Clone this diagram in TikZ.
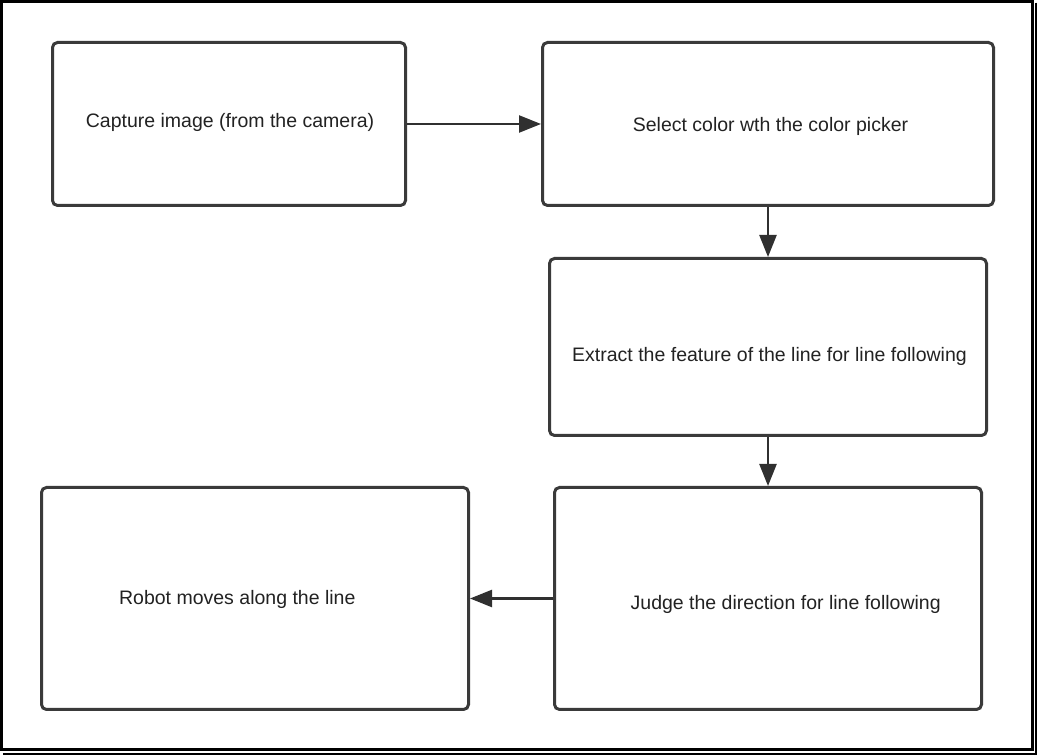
\documentclass[tikz,border=0pt]{standalone}
\usepackage{fontspec}
\setmainfont{Liberation Sans}
\usetikzlibrary{arrows.meta,positioning,calc}
\definecolor{boxline}{HTML}{3A3A3A}
\definecolor{arrowline}{HTML}{303030}
\definecolor{textgray}{HTML}{222222}
\tikzset{
	stepbox/.style={
		rectangle, rounded corners=5pt, inner sep=0pt,
		line width=3pt, draw=boxline, fill=white
	},
	%
	steptext/.style={
		anchor=base, inner sep=0pt, text=textgray,
		font=\fontsize{19.5}{23}\selectfont
	},
	%
	flow/.style={
		-{Triangle[length=22pt,width=17pt]}, line width=2.4pt, draw=arrowline
	}
}

\begin{document}
\begin{tikzpicture}[x=1pt, y=1pt]
    \useasboundingbox (0,0) rectangle (1039,755);
    \draw[line width=3pt] (1.5,753.5) rectangle (1032,5.7);
    \draw[line width=2pt] (1036,752.3) -- (1036,1.3) -- (2.7,1.3);
    \node(capture)[stepbox, minimum width=353pt, minimum height=163pt] at (229,631){};
    \node(picker)[stepbox, minimum width=451pt, minimum height=163pt, right=134pt of capture]{};
    \node(extract)[stepbox, minimum width=437pt, minimum height=177pt, below=50pt of picker]{};
    \node(judge)[stepbox, minimum width=427pt, minimum height=222pt, below=49pt of extract]{};
    \node(robot)[stepbox, minimum width=427pt, minimum height=222pt, left=83pt of judge]{};
    \node(capturetxt)[steptext] at ([shift={(1,-4)}]capture.center){Capture image (from the camera)};
    \node(pickertxt)[steptext] at ([shift={(2.5,-8)}]picker.center){Select color wth the color picker};
    \node(extracttxt)[steptext] at ([shift={(1.5,-15)}]extract.center){Extract the feature of the line for line following};
    \node(judgetxt)[steptext] at ([shift={(17.7,-11.5)}]judge.center){Judge the direction for line following};
    \node(robottxt)[steptext] at ([shift={(-17.7,-6)}]robot.center){Robot moves along the line};
    \draw[flow] (capture) -- (picker);
    \draw[flow] (picker) -- (extract);
    \draw[flow] (extract) -- (judge);
    \draw[flow] (judge) -- (robot);
\end{tikzpicture}
\end{document}
